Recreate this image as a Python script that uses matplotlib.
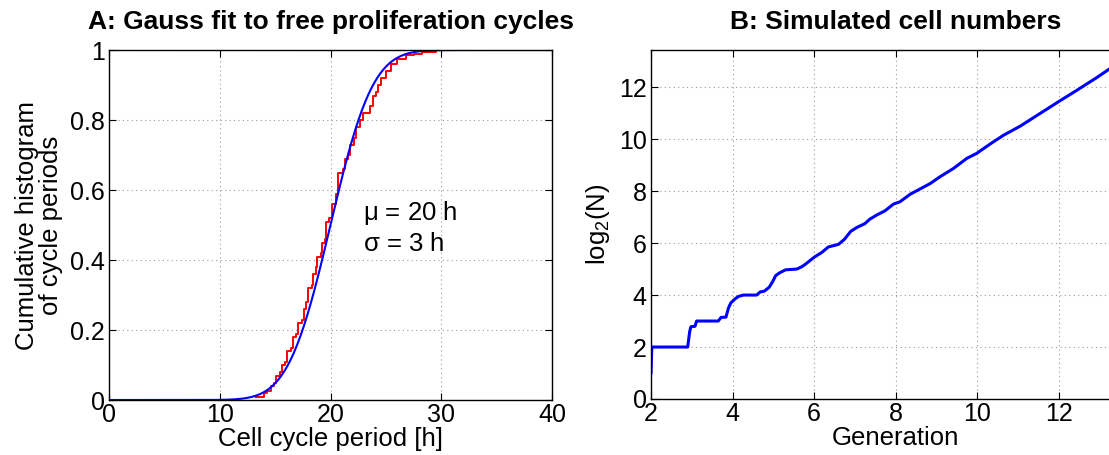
import math
import matplotlib
matplotlib.use("Agg")
import matplotlib.pyplot as plt

plt.rcParams['font.family'] = ['Liberation Sans', 'DejaVu Sans']
plt.rcParams['mathtext.fontset'] = 'custom'
plt.rcParams['mathtext.rm'] = 'Liberation Sans'
plt.rcParams['mathtext.it'] = 'Liberation Sans'

# Panel A: measured cumulative histogram of cycle periods
cycle_period_h = [13.3, 14.0, 14.3, 14.6, 14.9, 15.1, 15.4, 15.6, 15.9, 16.1, 16.4, 16.6,
                  16.9, 17.1, 17.4, 17.6, 17.8, 18.0, 18.3, 18.4, 18.7, 18.8, 19.1, 19.2,
                  19.5, 19.6, 19.9, 20.1, 20.5, 20.7, 21.1, 21.3, 21.6, 21.8, 22.1, 22.3,
                  22.7, 22.9, 23.6, 23.8, 24.1, 24.3, 24.6, 25.0, 25.5, 26.0, 26.8, 27.5,
                  28.3, 29.5, 30.0]
cumulative_frac = [0.01, 0.02, 0.025, 0.04, 0.05, 0.07, 0.08, 0.10, 0.11, 0.14, 0.15, 0.18,
                   0.19, 0.22, 0.23, 0.26, 0.28, 0.32, 0.33, 0.36, 0.38, 0.41, 0.42, 0.45,
                   0.46, 0.51, 0.52, 0.56, 0.59, 0.65, 0.66, 0.69, 0.70, 0.73, 0.75, 0.78,
                   0.80, 0.82, 0.84, 0.87, 0.88, 0.90, 0.92, 0.94, 0.96, 0.975, 0.985, 0.99,
                   0.995, 1.0, 1.0]

# Gaussian fit parameters (hours)
mu_h = 20
sigma_h = 3

# Panel B: simulated population size
generation = [2.0, 2.02, 2.9, 2.95, 2.98, 3.08, 3.12, 3.65, 3.72, 3.84, 3.9, 3.96, 4.06,
              4.15, 4.27, 4.59, 4.68, 4.78, 4.9, 4.98, 5.06, 5.15, 5.3, 5.58, 5.7, 5.8,
              6.0, 6.2, 6.35, 6.6, 6.75, 6.9, 7.05, 7.25, 7.37, 7.54, 7.74, 7.95, 8.11,
              8.36, 8.85, 9.09, 9.42, 9.75, 9.99, 10.32, 10.65, 11.06, 11.55, 12.0,
              12.45, 12.94, 13.23, 13.6, 14.0]
log2_cells = [1.0, 2.0, 2.0, 2.6, 2.78, 2.8, 3.0, 3.0, 3.14, 3.15, 3.5, 3.7, 3.85,
              3.95, 4.0, 4.0, 4.12, 4.15, 4.3, 4.5, 4.75, 4.85, 4.97, 5.0, 5.09, 5.2,
              5.45, 5.65, 5.85, 5.95, 6.15, 6.45, 6.6, 6.75, 6.92, 7.08, 7.24, 7.5, 7.59,
              7.88, 8.29, 8.55, 8.87, 9.26, 9.45, 9.81, 10.15, 10.5, 10.99, 11.44,
              11.88, 12.37, 12.68, 13.05, 13.43]

a_xticks = [0, 10, 20, 30, 40]
a_yticks = [0, 0.2, 0.4, 0.6, 0.8, 1]
a_yticklabels = ['0', '0.2', '0.4', '0.6', '0.8', '1']
b_xticks = [2, 4, 6, 8, 10, 12]
b_yticks = [0, 2, 4, 6, 8, 10, 12]

W, H = 1109, 455
fig = plt.figure(figsize=(W / 100, H / 100), dpi=100)

TICK_FS = 18
LABEL_FS = 18.5
TITLE_FS = 19


def px_axes(left, top, right, bottom):
    return fig.add_axes([left / W, 1 - bottom / H, (right - left) / W, (bottom - top) / H])


def style(ax):
    ax.grid(True, linestyle=(0, (1, 3)), color='#999999', linewidth=0.8)
    ax.tick_params(direction='in', top=True, right=True, length=5, width=0.8,
                   labelsize=TICK_FS, colors='black')
    ax.tick_params(axis='x', pad=2)
    ax.tick_params(axis='y', pad=3)
    for s in ax.spines.values():
        s.set_linewidth(1.0)
        s.set_color('black')


axA = px_axes(109, 50, 552, 400)
fit_x = [0.1 * i for i in range(401)]
fit_y = [0.5 * (1 + math.erf((x - mu_h) / (sigma_h * math.sqrt(2)))) for x in fit_x]
axA.plot(cycle_period_h, cumulative_frac, color='#ff0000', linewidth=1.4,
         drawstyle='steps-post')
axA.plot(fit_x, fit_y, color='#0000ff', linewidth=1.5)
axA.set_xlim(0, 40)
axA.set_ylim(0, 1)
axA.set_xticks(a_xticks)
axA.set_yticks(a_yticks)
axA.set_yticklabels(a_yticklabels)
style(axA)
axA.text(22.9, 0.535, r'$\mu$ = %d h' % mu_h, fontsize=LABEL_FS, va='center')
axA.text(22.9, 0.447, r'$\sigma$ = %d h' % sigma_h, fontsize=LABEL_FS, va='center')
axA.set_xlabel('Cell cycle period [h]', fontsize=LABEL_FS, labelpad=0)
axA.set_ylabel('Cumulative histogram\nof cycle periods', fontsize=LABEL_FS, labelpad=5,
               linespacing=1.0)
axA.set_title('A: Gauss fit to free proliferation cycles', fontsize=TITLE_FS,
              fontweight='bold', pad=15)

axB = px_axes(651, 50, 1140, 399)
axB.plot(generation, log2_cells, color='#0000ff', linewidth=2.2)
axB.set_xlim(2, 14)
axB.set_ylim(0, max(log2_cells))
axB.set_xticks(b_xticks)
axB.set_yticks(b_yticks)
style(axB)
axB.set_xlabel('Generation', fontsize=LABEL_FS, labelpad=0)
axB.set_ylabel(r'log$_2$(N)', fontsize=LABEL_FS, labelpad=5)
axB.set_title('B: Simulated cell numbers', fontsize=TITLE_FS, fontweight='bold', pad=15)

fig.savefig('out.png', dpi=100)
